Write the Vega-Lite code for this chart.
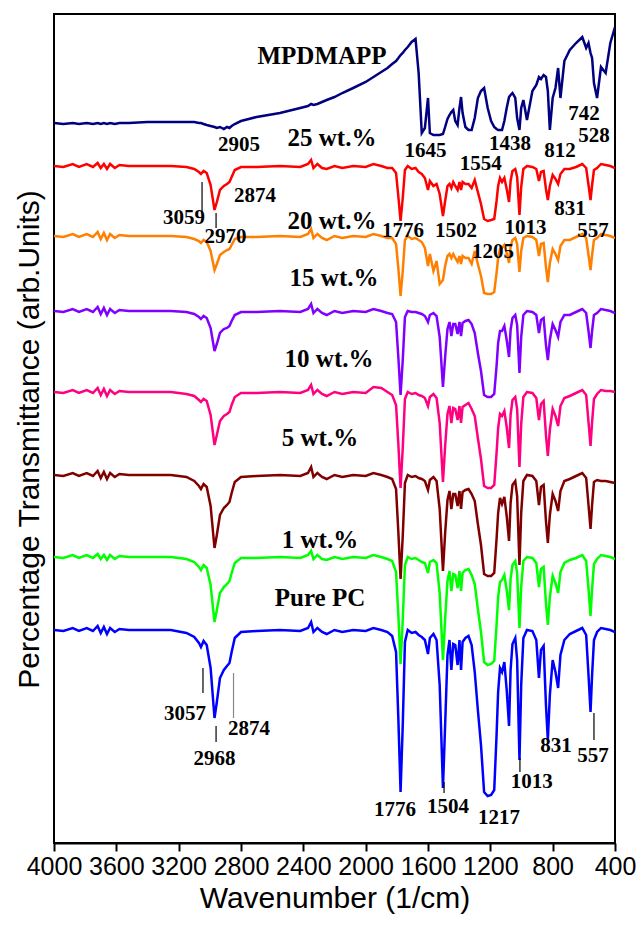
{
"$schema": "https://vega.github.io/schema/vega-lite/v6.json",
"width": 561, "height": 829,
"autosize": {"type": "none"},
"padding": {"left": 54, "top": 14, "right": 23, "bottom": 83},
"background": "white",
"config": {"view": {"stroke": "black", "strokeWidth": 2}, "axis": {"grid": false}},
"datasets": {
"spec": [
{"w":4000,"m":720,"r25":677,"r20":607,"r15":532,"r10":451,"r5":368,"r1":286,"pc":213},
{"w":3940,"m":719,"r25":676,"r20":606,"r15":531,"r10":450,"r5":367,"r1":285,"pc":212},
{"w":3880,"m":720,"r25":679,"r20":609,"r15":534,"r10":453,"r5":370,"r1":288,"pc":215},
{"w":3840,"m":719,"r25":676,"r20":606,"r15":531,"r10":450,"r5":367,"r1":285,"pc":212},
{"w":3790,"m":720,"r25":679,"r20":609,"r15":534,"r10":453,"r5":370,"r1":288,"pc":215},
{"w":3750,"m":719,"r25":676,"r20":606,"r15":531,"r10":450,"r5":367,"r1":285,"pc":212},
{"w":3720,"m":720,"r25":680,"r20":611,"r15":536,"r10":455,"r5":372,"r1":289,"pc":217},
{"w":3700,"m":719,"r25":675,"r20":604,"r15":529,"r10":448,"r5":365,"r1":284,"pc":210},
{"w":3680,"m":720,"r25":679,"r20":610,"r15":535,"r10":454,"r5":371,"r1":288,"pc":216},
{"w":3660,"m":719,"r25":674,"r20":603,"r15":528,"r10":447,"r5":364,"r1":283,"pc":209},
{"w":3640,"m":720,"r25":679,"r20":609,"r15":534,"r10":453,"r5":370,"r1":288,"pc":215},
{"w":3610,"m":719,"r25":675,"r20":605,"r15":530,"r10":449,"r5":366,"r1":284,"pc":211},
{"w":3580,"m":720,"r25":678,"r20":608,"r15":533,"r10":452,"r5":369,"r1":287,"pc":214},
{"w":3520,"m":720,"r25":677,"r20":607,"r15":532,"r10":451,"r5":368,"r1":286,"pc":213},
{"w":3400,"m":721,"r25":677,"r20":607,"r15":532,"r10":451,"r5":368,"r1":286,"pc":213},
{"w":3250,"m":721,"r25":677,"r20":607,"r15":532,"r10":451,"r5":368,"r1":286,"pc":213},
{"w":3150,"m":721,"r25":676,"r20":606,"r15":531,"r10":449,"r5":366,"r1":284,"pc":210},
{"w":3100,"m":721,"r25":674,"r20":604,"r15":529,"r10":447,"r5":362,"r1":281,"pc":206},
{"w":3070,"m":720,"r25":671,"r20":602,"r15":526,"r10":443,"r5":357,"r1":276,"pc":200},
{"w":3057,"m":720,"r25":669,"r20":600,"r15":524,"r10":441,"r5":354,"r1":273,"pc":196},
{"w":3040,"m":719,"r25":672,"r20":603,"r15":527,"r10":444,"r5":359,"r1":278,"pc":202},
{"w":3020,"m":718,"r25":670,"r20":601,"r15":525,"r10":442,"r5":356,"r1":275,"pc":198},
{"w":2995,"m":717,"r25":658,"r20":592,"r15":515,"r10":428,"r5":337,"r1":258,"pc":175},
{"w":2970,"m":716,"r25":633,"r20":573,"r15":492,"r10":398,"r5":295,"r1":221,"pc":125},
{"w":2955,"m":715,"r25":641,"r20":579,"r15":499,"r10":408,"r5":308,"r1":233,"pc":141},
{"w":2935,"m":716,"r25":653,"r20":588,"r15":510,"r10":422,"r5":328,"r1":250,"pc":165},
{"w":2910,"m":714,"r25":657,"r20":591,"r15":514,"r10":427,"r5":335,"r1":256,"pc":173},
{"w":2890,"m":716,"r25":659,"r20":593,"r15":515,"r10":429,"r5":338,"r1":259,"pc":177},
{"w":2874,"m":715,"r25":661,"r20":594,"r15":517,"r10":431,"r5":341,"r1":262,"pc":180},
{"w":2860,"m":717,"r25":666,"r20":598,"r15":522,"r10":438,"r5":350,"r1":270,"pc":191},
{"w":2840,"m":719,"r25":673,"r20":604,"r15":528,"r10":446,"r5":361,"r1":280,"pc":205},
{"w":2800,"m":722,"r25":676,"r20":606,"r15":531,"r10":450,"r5":366,"r1":285,"pc":211},
{"w":2700,"m":726,"r25":676,"r20":606,"r15":531,"r10":450,"r5":367,"r1":285,"pc":212},
{"w":2550,"m":730,"r25":677,"r20":607,"r15":532,"r10":451,"r5":368,"r1":286,"pc":213},
{"w":2420,"m":735,"r25":676,"r20":606,"r15":531,"r10":450,"r5":367,"r1":285,"pc":212},
{"w":2370,"m":737,"r25":679,"r20":609,"r15":534,"r10":453,"r5":370,"r1":288,"pc":215},
{"w":2350,"m":739,"r25":683,"r20":614,"r15":539,"r10":458,"r5":376,"r1":292,"pc":221},
{"w":2335,"m":738,"r25":675,"r20":605,"r15":530,"r10":449,"r5":366,"r1":284,"pc":211},
{"w":2310,"m":739,"r25":679,"r20":609,"r15":534,"r10":453,"r5":370,"r1":288,"pc":215},
{"w":2280,"m":741,"r25":675,"r20":605,"r15":530,"r10":449,"r5":366,"r1":284,"pc":211},
{"w":2250,"m":743,"r25":674,"r20":603,"r15":528,"r10":447,"r5":364,"r1":283,"pc":209},
{"w":2200,"m":746,"r25":677,"r20":607,"r15":532,"r10":451,"r5":368,"r1":286,"pc":213},
{"w":2150,"m":750,"r25":675,"r20":605,"r15":530,"r10":449,"r5":366,"r1":284,"pc":211},
{"w":2080,"m":755,"r25":677,"r20":607,"r15":532,"r10":451,"r5":368,"r1":286,"pc":213},
{"w":2000,"m":761,"r25":676,"r20":606,"r15":531,"r10":450,"r5":367,"r1":285,"pc":212},
{"w":1950,"m":766,"r25":679,"r20":609,"r15":534,"r10":456,"r5":370,"r1":288,"pc":215},
{"w":1900,"m":771,"r25":677,"r20":607,"r15":532,"r10":455,"r5":368,"r1":286,"pc":213},
{"w":1860,"m":775,"r25":675,"r20":605,"r15":530,"r10":451,"r5":366,"r1":284,"pc":211},
{"w":1830,"m":779,"r25":675,"r20":605,"r15":529,"r10":448,"r5":364,"r1":282,"pc":207},
{"w":1805,"m":782,"r25":670,"r20":599,"r15":521,"r10":438,"r5":354,"r1":271,"pc":191},
{"w":1790,"m":785,"r25":646,"r20":574,"r15":485,"r10":398,"r5":310,"r1":227,"pc":123},
{"w":1776,"m":788,"r25":622,"r20":547,"r15":448,"r10":355,"r5":264,"r1":179,"pc":51},
{"w":1762,"m":790,"r25":645,"r20":572,"r15":483,"r10":395,"r5":307,"r1":223,"pc":118},
{"w":1748,"m":793,"r25":673,"r20":603,"r15":526,"r10":444,"r5":360,"r1":278,"pc":201},
{"w":1730,"m":796,"r25":677,"r20":607,"r15":532,"r10":451,"r5":368,"r1":286,"pc":213},
{"w":1705,"m":801,"r25":674,"r20":604,"r15":531,"r10":449,"r5":366,"r1":284,"pc":210},
{"w":1680,"m":804,"r25":675,"r20":605,"r15":531,"r10":450,"r5":367,"r1":285,"pc":211},
{"w":1660,"m":770,"r25":671,"r20":603,"r15":530,"r10":448,"r5":365,"r1":283,"pc":208},
{"w":1640,"m":710,"r25":669,"r20":601,"r15":529,"r10":447,"r5":364,"r1":281,"pc":206},
{"w":1620,"m":715,"r25":665,"r20":595,"r15":527,"r10":445,"r5":362,"r1":280,"pc":203},
{"w":1600,"m":745,"r25":653,"r20":577,"r15":521,"r10":437,"r5":353,"r1":270,"pc":189},
{"w":1588,"m":710,"r25":662,"r20":589,"r15":528,"r10":446,"r5":363,"r1":281,"pc":205},
{"w":1565,"m":708,"r25":657,"r20":572,"r15":530,"r10":449,"r5":366,"r1":283,"pc":209},
{"w":1545,"m":708,"r25":659,"r20":582,"r15":527,"r10":445,"r5":362,"r1":280,"pc":203},
{"w":1525,"m":708,"r25":649,"r20":559,"r15":506,"r10":420,"r5":334,"r1":250,"pc":158},
{"w":1504,"m":709,"r25":627,"r20":563,"r15":456,"r10":361,"r5":272,"r1":183,"pc":55},
{"w":1490,"m":716,"r25":642,"r20":577,"r15":486,"r10":397,"r5":310,"r1":224,"pc":118},
{"w":1475,"m":724,"r25":657,"r20":587,"r15":514,"r10":429,"r5":343,"r1":262,"pc":188},
{"w":1462,"m":728,"r25":659,"r20":589,"r15":521,"r10":437,"r5":352,"r1":272,"pc":203},
{"w":1450,"m":731,"r25":655,"r20":585,"r15":507,"r10":420,"r5":334,"r1":252,"pc":173},
{"w":1438,"m":733,"r25":661,"r20":589,"r15":519,"r10":435,"r5":349,"r1":269,"pc":199},
{"w":1425,"m":722,"r25":657,"r20":585,"r15":519,"r10":434,"r5":349,"r1":268,"pc":198},
{"w":1410,"m":718,"r25":653,"r20":581,"r15":509,"r10":423,"r5":337,"r1":255,"pc":178},
{"w":1398,"m":735,"r25":661,"r20":587,"r15":521,"r10":437,"r5":352,"r1":272,"pc":203},
{"w":1388,"m":746,"r25":653,"r20":579,"r15":507,"r10":420,"r5":334,"r1":252,"pc":173},
{"w":1378,"m":730,"r25":661,"r20":587,"r15":520,"r10":436,"r5":351,"r1":270,"pc":201},
{"w":1360,"m":716,"r25":659,"r20":585,"r15":522,"r10":438,"r5":353,"r1":273,"pc":205},
{"w":1340,"m":713,"r25":659,"r20":585,"r15":523,"r10":440,"r5":354,"r1":274,"pc":207},
{"w":1320,"m":713,"r25":655,"r20":579,"r15":519,"r10":434,"r5":349,"r1":268,"pc":198},
{"w":1300,"m":725,"r25":663,"r20":592,"r15":510,"r10":427,"r5":342,"r1":259,"pc":171},
{"w":1280,"m":745,"r25":651,"r20":579,"r15":490,"r10":405,"r5":319,"r1":234,"pc":133},
{"w":1260,"m":752,"r25":639,"r20":567,"r15":472,"r10":384,"r5":298,"r1":211,"pc":98},
{"w":1240,"m":755,"r25":624,"r20":550,"r15":448,"r10":357,"r5":269,"r1":181,"pc":51},
{"w":1217,"m":735,"r25":622,"r20":549,"r15":446,"r10":355,"r5":267,"r1":178,"pc":47},
{"w":1195,"m":722,"r25":623,"r20":549,"r15":446,"r10":355,"r5":267,"r1":179,"pc":48},
{"w":1175,"m":716,"r25":624,"r20":551,"r15":449,"r10":358,"r5":270,"r1":182,"pc":53},
{"w":1160,"m":714,"r25":642,"r20":570,"r15":477,"r10":390,"r5":304,"r1":218,"pc":108},
{"w":1150,"m":713,"r25":657,"r20":585,"r15":500,"r10":415,"r5":330,"r1":246,"pc":151},
{"w":1138,"m":713,"r25":665,"r20":594,"r15":512,"r10":429,"r5":345,"r1":261,"pc":175},
{"w":1125,"m":713,"r25":661,"r20":595,"r15":512,"r10":427,"r5":339,"r1":263,"pc":171},
{"w":1110,"m":722,"r25":665,"r20":598,"r15":517,"r10":432,"r5":346,"r1":268,"pc":181},
{"w":1095,"m":735,"r25":654,"r20":590,"r15":503,"r10":416,"r5":327,"r1":253,"pc":153},
{"w":1080,"m":746,"r25":641,"r20":580,"r15":486,"r10":395,"r5":302,"r1":233,"pc":117},
{"w":1070,"m":748,"r25":662,"r20":596,"r15":513,"r10":428,"r5":340,"r1":264,"pc":173},
{"w":1058,"m":750,"r25":672,"r20":603,"r15":525,"r10":443,"r5":358,"r1":278,"pc":199},
{"w":1040,"m":745,"r25":674,"r20":605,"r15":528,"r10":446,"r5":362,"r1":282,"pc":205},
{"w":1028,"m":725,"r25":666,"r20":599,"r15":518,"r10":434,"r5":347,"r1":270,"pc":183},
{"w":1013,"m":713,"r25":628,"r20":571,"r15":470,"r10":376,"r5":278,"r1":215,"pc":83},
{"w":1002,"m":735,"r25":656,"r20":592,"r15":506,"r10":419,"r5":330,"r1":256,"pc":158},
{"w":988,"m":743,"r25":674,"r20":605,"r15":528,"r10":446,"r5":362,"r1":282,"pc":205},
{"w":965,"m":723,"r25":677,"r20":607,"r15":532,"r10":451,"r5":368,"r1":286,"pc":213},
{"w":930,"m":752,"r25":676,"r20":606,"r15":531,"r10":450,"r5":367,"r1":285,"pc":212},
{"w":905,"m":758,"r25":674,"r20":603,"r15":528,"r10":445,"r5":362,"r1":280,"pc":203},
{"w":888,"m":766,"r25":662,"r20":587,"r15":510,"r10":423,"r5":338,"r1":256,"pc":165},
{"w":875,"m":764,"r25":671,"r20":599,"r15":523,"r10":439,"r5":356,"r1":274,"pc":193},
{"w":858,"m":768,"r25":672,"r20":600,"r15":525,"r10":442,"r5":358,"r1":276,"pc":197},
{"w":843,"m":766,"r25":654,"r20":576,"r15":498,"r10":408,"r5":322,"r1":240,"pc":138},
{"w":831,"m":752,"r25":643,"r20":561,"r15":483,"r10":387,"r5":300,"r1":218,"pc":103},
{"w":818,"m":713,"r25":657,"r20":580,"r15":503,"r10":413,"r5":328,"r1":246,"pc":148},
{"w":800,"m":745,"r25":668,"r20":594,"r15":519,"r10":434,"r5":349,"r1":267,"pc":183},
{"w":782,"m":755,"r25":664,"r20":589,"r15":513,"r10":427,"r5":342,"r1":260,"pc":171},
{"w":765,"m":775,"r25":659,"r20":583,"r15":506,"r10":417,"r5":332,"r1":250,"pc":155},
{"w":750,"m":745,"r25":669,"r20":597,"r15":521,"r10":437,"r5":352,"r1":271,"pc":188},
{"w":725,"m":782,"r25":674,"r20":603,"r15":528,"r10":445,"r5":362,"r1":280,"pc":203},
{"w":690,"m":793,"r25":674,"r20":603,"r15":528,"r10":447,"r5":364,"r1":283,"pc":209},
{"w":650,"m":800,"r25":676,"r20":606,"r15":531,"r10":450,"r5":367,"r1":285,"pc":212},
{"w":610,"m":806,"r25":679,"r20":609,"r15":534,"r10":453,"r5":370,"r1":288,"pc":215},
{"w":585,"m":795,"r25":675,"r20":605,"r15":530,"r10":448,"r5":365,"r1":282,"pc":208},
{"w":570,"m":800,"r25":658,"r20":588,"r15":512,"r10":421,"r5":338,"r1":254,"pc":168},
{"w":557,"m":790,"r25":643,"r20":573,"r15":495,"r10":397,"r5":314,"r1":227,"pc":131},
{"w":547,"m":785,"r25":658,"r20":588,"r15":512,"r10":421,"r5":338,"r1":254,"pc":168},
{"w":535,"m":760,"r25":673,"r20":603,"r15":528,"r10":444,"r5":361,"r1":279,"pc":203},
{"w":515,"m":745,"r25":675,"r20":605,"r15":530,"r10":449,"r5":363,"r1":284,"pc":211},
{"w":490,"m":776,"r25":679,"r20":609,"r15":534,"r10":453,"r5":362,"r1":288,"pc":215},
{"w":460,"m":770,"r25":678,"r20":608,"r15":533,"r10":452,"r5":362,"r1":287,"pc":214},
{"w":430,"m":800,"r25":677,"r20":607,"r15":532,"r10":452,"r5":361,"r1":286,"pc":213},
{"w":400,"m":816,"r25":675,"r20":605,"r15":530,"r10":451,"r5":360,"r1":284,"pc":211}
],
"series_labels": [
{"w":2280,"v":787,"t":"MPDMAPP"},
{"w":2216,"v":705,"t":"25 wt.%"},
{"w":2216,"v":622,"t":"20 wt.%"},
{"w":2203,"v":565,"t":"15 wt.%"},
{"w":2235,"v":484,"t":"10 wt.%"},
{"w":2293,"v":405,"t":"5 wt.%"},
{"w":2293,"v":303,"t":"1 wt.%"},
{"w":2293,"v":245,"t":"Pure PC"}
],
"peak_labels": [
{"w":2813,"v":698,"t":"2905"},
{"w":1616,"v":692,"t":"1645"},
{"w":1262,"v":679,"t":"1554"},
{"w":1074,"v":699,"t":"1438"},
{"w":753,"v":692,"t":"812"},
{"w":599,"v":729,"t":"742"},
{"w":535,"v":707,"t":"528"},
{"w":2710,"v":647,"t":"2874"},
{"w":3166,"v":625,"t":"3059"},
{"w":2900,"v":606,"t":"2970"},
{"w":1760,"v":612,"t":"1776"},
{"w":1420,"v":612,"t":"1502"},
{"w":974,"v":615,"t":"1013"},
{"w":689,"v":634,"t":"831"},
{"w":541,"v":612,"t":"557"},
{"w":1183,"v":591,"t":"1205"},
{"w":3159,"v":129,"t":"3057"},
{"w":2970,"v":84,"t":"2968"},
{"w":2749,"v":114,"t":"2874"},
{"w":1812,"v":33,"t":"1776"},
{"w":1472,"v":36,"t":"1504"},
{"w":1144,"v":25,"t":"1217"},
{"w":935,"v":61,"t":"1013"},
{"w":779,"v":97,"t":"831"},
{"w":541,"v":87,"t":"557"}
],
"leaders": [
{"w":3050,"a":661,"b":630,"c":"k"},
{"w":2960,"a":630,"b":615,"c":"k"},
{"w":3044,"a":175,"b":150,"c":"k"},
{"w":2960,"a":117,"b":101,"c":"k"},
{"w":1497,"a":61,"b":50,"c":"k"},
{"w":1010,"a":85,"b":71,"c":"k"},
{"w":535,"a":130,"b":103,"c":"k"},
{"w":2848,"a":170,"b":125,"c":"g"}
]
},
"layer": [
{
"data": {"name": "spec"},
"transform": [{"fold": ["m","r25","r20","r15","r10","r5","r1","pc"], "as": ["series","t"]}],
"mark": {"type": "line", "strokeWidth": 2.5, "clip": true},
"encoding": {
"x": {"field": "w", "type": "quantitative",
"scale": {"domain": [400, 4000], "reverse": true, "nice": false, "zero": false},
"axis": {
"values": [4000,3800,3600,3400,3200,3000,2800,2600,2400,2200,2000,1800,1600,1400,1200,1000,800,600,400],
"labelExpr": "datum.value % 400 == 0 ? format(datum.value, 'd') : ''",
"tickSize": {"condition": {"test": "datum.value % 400 == 0", "value": 8}, "value": 5},
"tickColor": "black", "tickWidth": 2,
"domainColor": "black", "domainWidth": 2,
"labelFont": "Liberation Sans", "labelFontSize": 25, "labelColor": "black", "labelPadding": 3,
"labelOverlap": false, "labelFlush": false,
"title": "Wavenumber (1/cm)", "titleFont": "Liberation Sans", "titleFontSize": 30, "titleFontWeight": "normal", "titleColor": "black", "titlePadding": 4
}},
"y": {"field": "t", "type": "quantitative",
"scale": {"domain": [0, 829], "nice": false, "zero": false},
"axis": {"labels": false, "ticks": false, "domain": false, "grid": false,
"title": "Percentage Transmittance (arb.Units)", "titleFont": "Liberation Sans", "titleFontSize": 30, "titleFontWeight": "normal", "titleColor": "black", "titlePadding": 10, "titleY": 425}},
"color": {"field": "series", "type": "nominal",
"scale": {"domain": ["m","r25","r20","r15","r10","r5","r1","pc"], "range": ["#000080","#FF0000","#FF8000","#8000FF","#FF0080","#800000","#00FF00","#0000FF"]},
"legend": null}
}
},
{
"data": {"name": "leaders"},
"transform": [{"filter": "datum.c == 'k'"}],
"mark": {"type": "rule", "strokeWidth": 1.2, "color": "black"},
"encoding": {"x": {"field": "w", "type": "quantitative"}, "y": {"field": "a", "type": "quantitative"}, "y2": {"field": "b"}}
},
{
"data": {"name": "leaders"},
"transform": [{"filter": "datum.c == 'g'"}],
"mark": {"type": "rule", "strokeWidth": 1.2, "color": "#888888"},
"encoding": {"x": {"field": "w", "type": "quantitative"}, "y": {"field": "a", "type": "quantitative"}, "y2": {"field": "b"}}
},
{
"data": {"name": "series_labels"},
"mark": {"type": "text", "font": "Liberation Serif", "fontWeight": "bold", "fontSize": 25, "color": "black", "align": "center", "baseline": "middle"},
"encoding": {"x": {"field": "w", "type": "quantitative"}, "y": {"field": "v", "type": "quantitative"}, "text": {"field": "t"}}
},
{
"data": {"name": "peak_labels"},
"mark": {"type": "text", "font": "Liberation Serif", "fontWeight": "bold", "fontSize": 21, "color": "black", "align": "center", "baseline": "middle"},
"encoding": {"x": {"field": "w", "type": "quantitative"}, "y": {"field": "v", "type": "quantitative"}, "text": {"field": "t"}}
}
]
}
